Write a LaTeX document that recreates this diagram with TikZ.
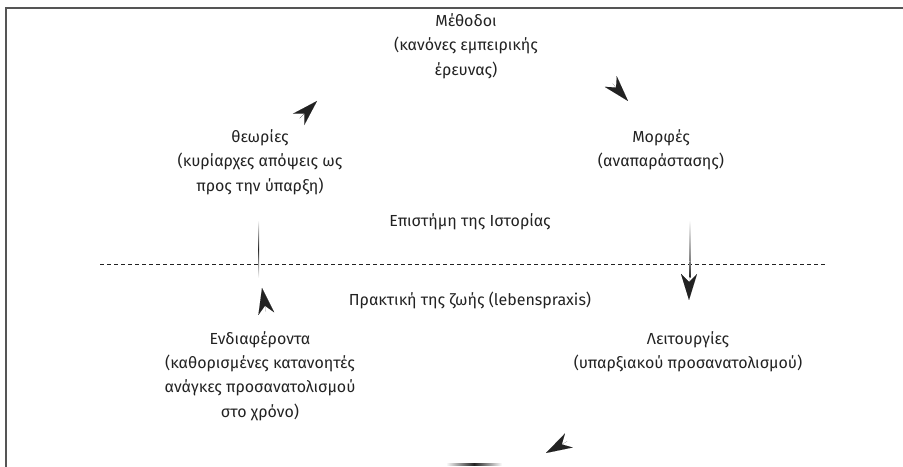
\documentclass[tikz,border=0pt]{standalone}
\usepackage{fontspec}
\setmainfont{Fira Sans}
\usetikzlibrary{arrows.meta}
\definecolor{txt}{HTML}{222222}
\definecolor{frm}{HTML}{555555}
\tikzset{
  lbl/.style={align=center, text=txt, font=\fontsize{16bp}{24.3bp}\selectfont, inner sep=0pt},
  head/.style={line width=0.01pt, draw=txt, -{Stealth[length=26bp,width=16bp,inset=8bp]}},
}
\begin{document}
\begin{tikzpicture}[x=1bp,y=-1bp]
\useasboundingbox (0,0) rectangle (903,467);
% frame
\draw[frm, line width=1.5bp] (6,467) -- (6,8) -- (903,8);
% dashed separator
\draw[txt, line width=0.9bp, dash pattern=on 4bp off 3bp] (100,264) -- (827,264);
% texts
\node[lbl] (meth) at (466,46) {Μέθοδοι\\(κανόνες εμπειρικής\\έρευνας)};
\node[lbl] (theo) at (260,162) {θεωρίες\\(κυρίαρχες απόψεις ως\\προς την ύπαρξη)};
\node[lbl] (form) at (661,150) {Μορφές\\(αναπαράστασης)};
\node[lbl] (sci) at (470,222) {Επιστήμη της Ιστορίας};
\node[lbl] (prax) at (470,300) {Πρακτική της ζωής (lebenspraxis)};
\node[lbl] (inte) at (260,376) {Ενδιαφέροντα\\(καθορισμένες κατανοητές\\ανάγκες προσανατολισμού\\στο χρόνο)};
\node[lbl] (func) at (688,352) {Λειτουργίες\\(υπαρξιακού προσανατολισμού)};
% shafts (fading)
\shade[top color=white, bottom color=white, middle color=txt] (258,220) rectangle (259,278);
\shade[top color=white, bottom color=txt!60] (689.5,220) rectangle (690.5,262);
\shade[top color=txt!60, bottom color=txt] (689.5,262) rectangle (690.5,278);
\shade[left color=white, right color=white, middle color=txt] (446,463.8) rectangle (502,465);
% arrowheads
\coordinate (a1b) at (299.5,118.5); \coordinate (a1t) at (317,101);
\coordinate (a2b) at (612.5,83.5);  \coordinate (a2t) at (628,101);
\coordinate (a3b) at (689,275);     \coordinate (a3t) at (689,300);
\coordinate (a4b) at (266,312);     \coordinate (a4t) at (262,288);
\coordinate (a5b) at (567,441.5);   \coordinate (a5t) at (546,453);
\draw[head] (a1b) -- (a1t);
\draw[head] (a2b) -- (a2t);
\draw[head] (a3b) -- (a3t);
\draw[head] (a4b) -- (a4t);
\draw[head] (a5b) -- (a5t);
\end{tikzpicture}
\end{document}
